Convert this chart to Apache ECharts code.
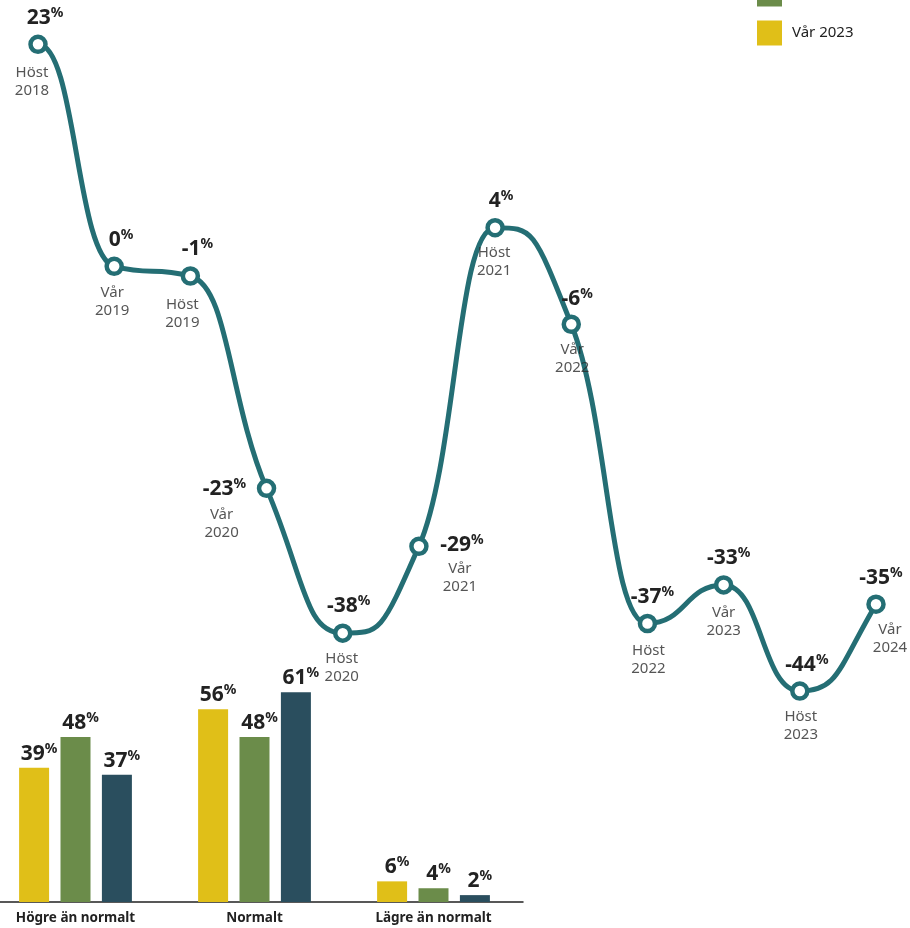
<!DOCTYPE html>
<html>
<head>
<meta charset="utf-8">
<script src="https://cdn.jsdelivr.net/npm/echarts@6/dist/echarts.min.js"></script>
<style>
  html, body { margin: 0; padding: 0; background: #fff; }
  #main { width: 910px; height: 928px; }
</style>
</head>
<body>
<div id="main"></div>
<script>
// linjen: index per halvår
var periods = ['Höst\n2018', 'Vår\n2019', 'Höst\n2019', 'Vår\n2020', 'Höst\n2020', 'Vår\n2021',
               'Höst\n2021', 'Vår\n2022', 'Höst\n2022', 'Vår\n2023', 'Höst\n2023', 'Vår\n2024'];
var indexValues = [23, 0, -1, -23, -38, -29, 4, -6, -37, -33, -44, -35];

// staplarna
var barCategories = ['Högre än normalt', 'Normalt', 'Lägre än normalt'];
var seriesNames = ['Vår 2023', 'Höst 2023', 'Vår 2024'];
var var2023 = [39, 56, 6];
var host2023 = [48, 48, 4];
var var2024 = [37, 61, 2];

// etikettplacering (px från punkten)
var valueOffset = [[7,-26],[7,-26],[7,-27],[-42,1],[6,-27],[43,-1],[6,-27],[6,-25],[5,-26],[5,-27],[7,-26],[5,-26]];
var periodOffset = [[-6,37],[-2,35],[-8,38],[-45,35],[-1,35],[41,31],[-1,34],[1,34],[1,36],[0,37],[1,35],[14,35]];

var TEAL = '#246e74';
var COLORS = ['#e0bf18', '#6b8c4a', '#2a4e5e'];
var FONT = 'Noto Sans';

var pctRich = {
    n: { fontFamily: FONT, fontSize: 21, fontWeight: 'bold', color: '#222', lineHeight: 24 },
    p: { fontFamily: FONT, fontSize: 14, fontWeight: 'bold', color: '#222', lineHeight: 24, verticalAlign: 'top', padding: [0, 0, 8, 0] }
};
function pctLabel(v) { return '{n|' + v + '}{p|%}'; }

// mjuk kurva: platt vid topp/botten, lutning vid monotona punkter
function tangents(pts) {
    var n = pts.length, t = [];
    for (var i = 1; i < n - 1; i++) {
        var h0 = pts[i][0] - pts[i - 1][0], h1 = pts[i + 1][0] - pts[i][0];
        var s0 = (pts[i][1] - pts[i - 1][1]) / h0, s1 = (pts[i + 1][1] - pts[i][1]) / h1;
        var p = (s0 * h1 + s1 * h0) / (h0 + h1);
        t[i] = (Math.sign(s0) + Math.sign(s1)) * Math.min(Math.abs(s0), Math.abs(s1), 0.5 * Math.abs(p)) || 0;
    }
    t[0] = 0;
    var hB = pts[n - 1][0] - pts[n - 2][0];
    t[n - 1] = (3 * (pts[n - 1][1] - pts[n - 2][1]) / hB - t[n - 2]) / 2;
    return t;
}

function renderCurve(params, api) {
    var i = params.dataIndex;
    if (i >= indexValues.length - 1) return null;
    var pts = indexValues.map(function (v, k) { return api.coord([k, v]); });
    var t = tangents(pts);
    var a = pts[i], b = pts[i + 1], dx = (b[0] - a[0]) * 0.5;
    return {
        type: 'bezierCurve',
        shape: {
            x1: a[0], y1: a[1], x2: b[0], y2: b[1],
            cpx1: a[0] + dx, cpy1: a[1] + dx * t[i],
            cpx2: b[0] - dx, cpy2: b[1] - dx * t[i + 1]
        },
        style: { stroke: TEAL, lineWidth: 5, fill: null }
    };
}

var myChart = echarts.init(document.getElementById('main'));
var option = {
    animation: false,
    legend: {
        orient: 'vertical',
        left: 752,
        top: -62.5,
        itemWidth: 25,
        itemHeight: 25,
        itemGap: 14,
        icon: 'rect',
        data: ['Vår 2024', 'Höst 2023', 'Vår 2023'],
        textStyle: { fontFamily: FONT, fontSize: 15, color: '#222', padding: [0, 0, 0, 5] }
    },
    grid: [
        { left: 38, right: 34, top: 25, bottom: 179, outerBoundsMode: 'none' },
        { left: -14, width: 537, top: 661.2, bottom: 26, outerBoundsMode: 'none' }
    ],
    xAxis: [
        { gridIndex: 0, type: 'category', data: periods, boundaryGap: false, show: false },
        {
            gridIndex: 1, type: 'category', data: barCategories,
            axisTick: { show: false },
            axisLine: { lineStyle: { color: '#222', width: 1.5 } },
            axisLabel: { fontFamily: FONT, fontSize: 13.5, fontWeight: 'bold', color: '#222', margin: 9 }
        }
    ],
    yAxis: [
        { gridIndex: 0, type: 'value', min: -50, max: 25, show: false },
        { gridIndex: 1, type: 'value', min: 0, max: 70, show: false }
    ],
    series: [
        {
            type: 'custom',
            xAxisIndex: 0, yAxisIndex: 0,
            renderItem: renderCurve,
            data: indexValues.map(function (v, i) { return [i, v]; }),
            silent: true,
            z: 2
        },
        {
            type: 'line',
            xAxisIndex: 0, yAxisIndex: 0,
            data: indexValues.map(function (v, i) {
                return { value: v, label: { offset: valueOffset[i] } };
            }),
            lineStyle: { width: 0, opacity: 0 },
            symbol: 'circle',
            symbolSize: 15,
            itemStyle: { color: '#fff', borderColor: TEAL, borderWidth: 4.5 },
            label: {
                show: true,
                position: 'inside',
                formatter: function (p) { return pctLabel(indexValues[p.dataIndex]); },
                rich: pctRich
            },
            silent: true,
            z: 3
        },
        {
            type: 'scatter',
            xAxisIndex: 0, yAxisIndex: 0,
            data: indexValues.map(function (v, i) {
                return { value: v, label: { offset: periodOffset[i] } };
            }),
            symbolSize: 1,
            itemStyle: { color: 'rgba(0,0,0,0)' },
            label: {
                show: true,
                position: 'inside',
                formatter: function (p) { return periods[p.dataIndex]; },
                fontFamily: FONT,
                fontSize: 15,
                lineHeight: 18,
                color: '#2b2b2b'
            },
            silent: true,
            z: 3
        }
    ].concat([var2023, host2023, var2024].map(function (vals, k) {
        return {
            name: seriesNames[k],
            type: 'bar',
            xAxisIndex: 1, yAxisIndex: 1,
            data: vals,
            barWidth: 30,
            barGap: '38%',
            itemStyle: { color: COLORS[k] },
            label: {
                show: true,
                position: 'top',
                distance: 2,
                offset: [5, 0],
                formatter: function (p) { return pctLabel(p.value); },
                rich: pctRich
            },
            silent: true
        };
    }))
};
myChart.setOption(option);
</script>
</body>
</html>
